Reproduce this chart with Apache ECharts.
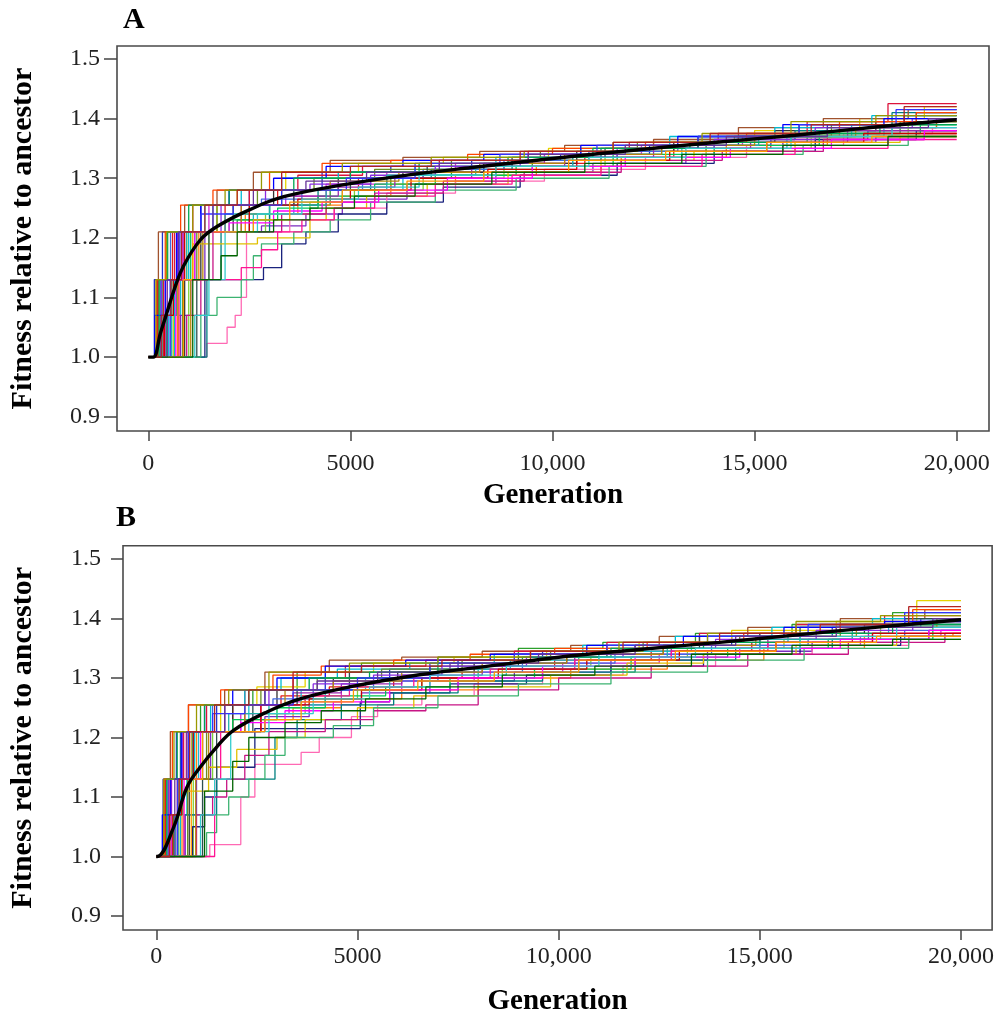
<!DOCTYPE html>
<html><head><meta charset="utf-8">
<script src="https://cdn.jsdelivr.net/npm/echarts@6/dist/echarts.min.js"></script>
<style>html,body{margin:0;padding:0;background:#fff}#c{width:997px;height:1018px}</style>
</head><body><div id="c"></div>
<script>
// ---------- Tick labels / axis data ----------
const yTicks = [0.9, 1.0, 1.1, 1.2, 1.3, 1.4, 1.5];
const xTicks = [0, 5000, 10000, 15000, 20000];
const yTitle = 'Fitness relative to ancestor';
const xTitle = 'Generation';
const panelLabels = ['A', 'B'];

// ---------- Panel A: individual runs [generation, fitness] ----------
const a01 = [[0,1],[150,1.13],[350,1.21],[1300,1.255],[2500,1.28],[4300,1.31],[6000,1.32],[8000,1.33],[10200,1.34],[12400,1.355],[14600,1.37],[16800,1.39],[19000,1.41],[20000,1.41]];
const a02 = [[0,1],[230,1.13],[600,1.21],[1900,1.255],[3200,1.28],[5200,1.3],[6800,1.31],[8600,1.325],[10800,1.335],[13000,1.35],[15400,1.365],[17800,1.38],[20000,1.38]];
const a03 = [[0,1],[360,1.13],[700,1.21],[2200,1.23],[3000,1.255],[4500,1.28],[6000,1.3],[7500,1.315],[9500,1.33],[11600,1.345],[13800,1.36],[16300,1.375],[18600,1.395],[20000,1.395]];
const a04 = [[0,1],[430,1.13],[850,1.21],[1500,1.255],[3400,1.27],[4400,1.29],[5900,1.31],[7600,1.325],[9800,1.34],[12200,1.355],[14700,1.37],[17100,1.385],[19500,1.4],[20000,1.4]];
const a05 = [[0,1],[500,1.07],[800,1.13],[1150,1.21],[2600,1.24],[3600,1.26],[4800,1.28],[6300,1.3],[8300,1.32],[10500,1.335],[13200,1.35],[15800,1.37],[18200,1.385],[20000,1.385]];
const a06 = [[0,1],[620,1.13],[950,1.21],[1700,1.255],[2200,1.28],[3400,1.31],[5200,1.325],[7300,1.335],[9900,1.35],[12500,1.36],[15000,1.38],[17600,1.4],[19200,1.42],[20000,1.42]];
const a07 = [[0,1],[720,1.13],[1250,1.21],[2400,1.24],[3700,1.255],[4800,1.27],[6000,1.29],[7600,1.305],[9600,1.32],[11700,1.335],[14300,1.355],[16800,1.37],[19000,1.375],[20000,1.375]];
const a08 = [[0,1],[800,1.07],[1050,1.13],[1400,1.21],[2800,1.22],[3900,1.24],[4800,1.265],[6400,1.29],[8600,1.31],[11000,1.325],[13300,1.345],[15700,1.36],[18000,1.37],[20000,1.37]];
const a09 = [[0,1],[900,1.13],[1300,1.21],[2100,1.255],[3100,1.28],[4700,1.3],[6300,1.31],[8300,1.325],[10600,1.345],[13000,1.36],[15500,1.38],[18000,1.395],[20000,1.395]];
const a10 = [[0,1],[1000,1.13],[1500,1.21],[2900,1.24],[4000,1.26],[5100,1.28],[6800,1.3],[8800,1.32],[11300,1.335],[13800,1.35],[16400,1.37],[18800,1.39],[20000,1.39]];
const a11 = [[0,1],[1450,1.023],[1950,1.05],[2150,1.07],[2300,1.1],[2430,1.21],[3500,1.23],[4600,1.25],[5900,1.275],[7600,1.295],[9800,1.315],[12300,1.335],[14800,1.355],[17200,1.375],[19400,1.385],[20000,1.385]];
const a12 = [[0,1],[1400,1.13],[2850,1.15],[3300,1.19],[3900,1.21],[4700,1.24],[5900,1.26],[7300,1.285],[9200,1.305],[11600,1.325],[14000,1.345],[16500,1.365],[19000,1.38],[20000,1.38]];
const a13 = [[0,1],[1450,1.13],[1800,1.21],[3000,1.255],[4200,1.28],[5500,1.3],[7000,1.315],[9000,1.33],[11200,1.35],[13600,1.365],[16000,1.38],[18400,1.41],[20000,1.41]];
const a14 = [[0,1],[250,1.21],[900,1.255],[1700,1.28],[2600,1.31],[4500,1.33],[6300,1.335],[8200,1.345],[10300,1.355],[12500,1.365],[14600,1.385],[16700,1.4],[18800,1.415],[20000,1.415]];
const a15 = [[0,1],[300,1.13],[550,1.21],[1600,1.255],[2800,1.265],[3800,1.28],[5300,1.3],[6800,1.315],[8800,1.33],[10900,1.345],[13100,1.355],[15400,1.37],[17800,1.38],[20000,1.38]];
const a16 = [[0,1],[380,1.13],[650,1.21],[1100,1.255],[2500,1.28],[3700,1.305],[5300,1.32],[7200,1.33],[9400,1.345],[11900,1.36],[14100,1.375],[16300,1.395],[18300,1.425],[20000,1.425]];
const a17 = [[0,1],[450,1.07],[700,1.13],[1050,1.21],[2000,1.23],[3200,1.25],[4200,1.27],[5600,1.29],[7100,1.305],[9100,1.32],[11500,1.34],[14000,1.355],[16600,1.375],[19100,1.39],[20000,1.39]];
const a18 = [[0,1],[560,1.13],[880,1.21],[2300,1.255],[3600,1.27],[4700,1.285],[6100,1.3],[8000,1.32],[10300,1.335],[12500,1.35],[14900,1.36],[17300,1.38],[20000,1.38]];
const a19 = [[0,1],[650,1.13],[1000,1.21],[1400,1.255],[2300,1.28],[3300,1.3],[4700,1.31],[6600,1.32],[8600,1.335],[10700,1.35],[12900,1.37],[15500,1.385],[17900,1.405],[20000,1.405]];
const a20 = [[0,1],[750,1.13],[1100,1.19],[2700,1.2],[4000,1.23],[4400,1.25],[5400,1.27],[6900,1.29],[8900,1.31],[11200,1.33],[13500,1.345],[16000,1.36],[18600,1.37],[20000,1.37]];
const a21 = [[0,1],[850,1.13],[1200,1.21],[1700,1.255],[2700,1.28],[4100,1.3],[5600,1.315],[7500,1.33],[9700,1.345],[12100,1.36],[14500,1.37],[16900,1.39],[19300,1.4],[20000,1.4]];
const a22 = [[0,1],[950,1.07],[1300,1.13],[1600,1.21],[3300,1.24],[4400,1.26],[5600,1.275],[7300,1.295],[9300,1.31],[11700,1.33],[14200,1.345],[16700,1.365],[19200,1.375],[20000,1.375]];
const a23 = [[0,1],[1200,1.13],[1500,1.21],[2500,1.255],[3600,1.28],[5000,1.31],[6900,1.32],[9000,1.335],[11300,1.35],[13600,1.37],[16100,1.39],[18700,1.405],[20000,1.405]];
const a24 = [[0,1],[200,1.13],[420,1.21],[800,1.255],[1600,1.28],[3000,1.31],[4300,1.325],[6000,1.33],[7900,1.34],[10000,1.35],[12300,1.36],[14800,1.375],[17100,1.395],[19000,1.41],[20000,1.41]];
const a25 = [[0,1],[1300,1.07],[1700,1.1],[2300,1.13],[2600,1.17],[2800,1.19],[3600,1.21],[4500,1.23],[5500,1.26],[7100,1.28],[9100,1.3],[11400,1.32],[13800,1.34],[16200,1.355],[18800,1.37],[20000,1.37]];
const a26 = [[0,1],[330,1.13],[720,1.21],[1800,1.255],[2900,1.28],[4000,1.29],[5500,1.305],[7100,1.32],[9200,1.335],[11600,1.35],[14000,1.365],[16500,1.385],[18900,1.4],[20000,1.4]];
const a27 = [[0,1],[580,1.13],[950,1.21],[1900,1.24],[3000,1.255],[4400,1.28],[5900,1.305],[8100,1.32],[10500,1.34],[12700,1.355],[15100,1.37],[17400,1.39],[20000,1.39]];
const a28 = [[0,1],[1050,1.13],[1350,1.21],[2300,1.255],[3300,1.28],[4500,1.295],[6200,1.31],[8200,1.325],[10300,1.34],[12700,1.355],[15000,1.37],[17500,1.385],[19500,1.395],[20000,1.395]];
const a29 = [[0,1],[160,1.07],[420,1.13],[700,1.21],[1300,1.255],[2000,1.28],[3100,1.3],[4400,1.32],[6300,1.33],[8300,1.34],[10700,1.355],[13100,1.37],[15700,1.39],[18200,1.4],[20000,1.4]];
const a30 = [[0,1],[760,1.13],[2300,1.15],[2800,1.18],[3200,1.21],[3800,1.23],[4600,1.25],[5600,1.27],[7100,1.29],[9000,1.305],[11200,1.32],[13700,1.34],[16000,1.35],[18300,1.365],[20000,1.365]];
const a31 = [[0,1],[270,1.13],[480,1.21],[1000,1.255],[2000,1.28],[3600,1.3],[5000,1.31],[6700,1.325],[8900,1.335],[11000,1.35],[13400,1.36],[15900,1.375],[18100,1.39],[20000,1.39]];
const a32 = [[0,1],[400,1.07],[620,1.13],[900,1.21],[2500,1.255],[3700,1.265],[5000,1.28],[6500,1.3],[8400,1.315],[10600,1.33],[12900,1.345],[15300,1.36],[17700,1.375],[20000,1.375]];
const a33 = [[0,1],[540,1.13],[780,1.21],[1300,1.24],[2100,1.255],[3300,1.28],[4900,1.3],[6600,1.325],[8700,1.34],[11100,1.355],[13600,1.37],[16100,1.39],[18500,1.415],[20000,1.415]];
const a34 = [[0,1],[680,1.13],[1150,1.21],[2000,1.225],[3100,1.245],[4300,1.26],[5700,1.28],[7400,1.3],[9500,1.32],[11800,1.335],[14400,1.35],[16900,1.365],[19200,1.38],[20000,1.38]];
const a35 = [[0,1],[1150,1.07],[1500,1.13],[1900,1.21],[2700,1.24],[3800,1.265],[5200,1.285],[6700,1.305],[8600,1.32],[10900,1.335],[13300,1.35],[15900,1.37],[18400,1.385],[20000,1.385]];
const a36 = [[0,1],[190,1.13],[450,1.21],[1100,1.255],[1900,1.28],[2800,1.31],[4800,1.325],[7000,1.335],[9300,1.345],[11500,1.36],[13700,1.375],[15900,1.395],[18000,1.405],[20000,1.405]];
const a37 = [[0,1],[870,1.13],[1100,1.21],[2600,1.23],[3500,1.26],[4800,1.28],[6400,1.295],[8300,1.31],[10400,1.33],[12800,1.345],[15300,1.36],[17900,1.37],[20000,1.37]];
const a38 = [[0,1],[470,1.13],[750,1.21],[1600,1.255],[2600,1.28],[3900,1.295],[5400,1.31],[7200,1.325],[9400,1.34],[11800,1.355],[14300,1.37],[16800,1.385],[19300,1.4],[20000,1.4]];
const a39 = [[0,1],[1100,1.13],[1800,1.17],[2200,1.21],[3100,1.23],[4000,1.25],[5100,1.27],[6600,1.29],[8500,1.31],[10800,1.325],[13200,1.34],[15700,1.355],[18300,1.37],[20000,1.37]];
const a40 = [[0,1],[320,1.07],[560,1.13],[820,1.21],[1400,1.255],[2200,1.28],[3300,1.31],[5000,1.32],[7000,1.33],[9200,1.345],[11500,1.36],[13900,1.375],[16400,1.39],[18700,1.42],[20000,1.42]];
const meanA = [[0,1],[125,1.0],[300,1.04],[455,1.073],[650,1.115],[866,1.152],[1280,1.196],[1700,1.219],[2500,1.247],[3350,1.269],[5000,1.291],[6500,1.306],[8000,1.318],[10000,1.333],[12000,1.347],[14000,1.36],[16000,1.372],[18000,1.386],[20000,1.398]];

// ---------- Panel B: individual runs ----------
const b01 = [[0,1],[170,1.13],[500,1.21],[1500,1.255],[2700,1.28],[4200,1.3],[5800,1.315],[7500,1.33],[9600,1.345],[11900,1.355],[14300,1.37],[16800,1.385],[19000,1.4],[20000,1.4]];
const b02 = [[0,1],[230,1.13],[750,1.21],[1900,1.255],[3100,1.27],[4300,1.285],[5900,1.3],[7600,1.315],[9900,1.33],[12300,1.345],[14800,1.36],[17300,1.375],[20000,1.375]];
const b03 = [[0,1],[300,1.13],[600,1.21],[1100,1.255],[2400,1.28],[3500,1.31],[5100,1.325],[7000,1.335],[9000,1.35],[11100,1.36],[13400,1.375],[15800,1.39],[18300,1.41],[20000,1.41]];
const b04 = [[0,1],[380,1.13],[750,1.21],[2100,1.24],[3300,1.26],[4600,1.28],[6100,1.295],[7900,1.31],[10100,1.325],[12500,1.34],[15000,1.355],[17500,1.37],[19500,1.38],[20000,1.38]];
const b05 = [[0,1],[480,1.07],[760,1.13],[1050,1.21],[2300,1.255],[3600,1.28],[5200,1.3],[6800,1.315],[8800,1.33],[11000,1.345],[13300,1.36],[15700,1.375],[18200,1.39],[20000,1.39]];
const b06 = [[0,1],[560,1.13],[880,1.21],[1600,1.255],[2500,1.285],[3700,1.31],[5400,1.325],[7400,1.335],[9700,1.345],[12000,1.36],[14300,1.38],[16900,1.395],[18900,1.43],[20000,1.43]];
const b07 = [[0,1],[640,1.13],[1000,1.21],[2200,1.23],[3400,1.25],[4600,1.265],[6100,1.28],[8000,1.3],[10300,1.315],[12700,1.33],[15100,1.35],[17600,1.37],[19800,1.375],[20000,1.375]];
const b08 = [[0,1],[720,1.07],[1000,1.13],[1350,1.21],[2700,1.235],[3800,1.255],[5100,1.275],[6800,1.295],[8900,1.31],[11300,1.33],[13700,1.345],[16300,1.36],[18700,1.37],[20000,1.37]];
const b09 = [[0,1],[820,1.13],[1150,1.21],[1900,1.255],[3000,1.28],[4400,1.3],[6000,1.31],[7900,1.325],[10200,1.34],[12600,1.355],[15000,1.375],[17600,1.39],[20000,1.39]];
const b10 = [[0,1],[920,1.13],[1400,1.21],[2600,1.24],[3700,1.265],[5000,1.285],[6600,1.3],[8600,1.32],[10800,1.335],[13200,1.35],[15600,1.365],[18000,1.385],[20000,1.385]];
const b11 = [[0,1],[1330,1.02],[2100,1.1],[2450,1.155],[3600,1.175],[4050,1.2],[4850,1.235],[5500,1.255],[6600,1.27],[7900,1.29],[9600,1.305],[11600,1.32],[13900,1.34],[16300,1.355],[18700,1.37],[20000,1.37]];
const b12 = [[0,1],[900,1.05],[1200,1.1],[1500,1.15],[2450,1.215],[5070,1.26],[5800,1.275],[7300,1.29],[9200,1.305],[11300,1.32],[13600,1.34],[16000,1.355],[18500,1.37],[20000,1.37]];
const b13 = [[0,1],[700,1.07],[1500,1.13],[2950,1.2],[3500,1.23],[4600,1.255],[5900,1.275],[7500,1.295],[9600,1.31],[11900,1.33],[14400,1.35],[16800,1.365],[19200,1.38],[20000,1.38]];
const b14 = [[0,1],[180,1.13],[350,1.21],[800,1.255],[1700,1.28],[2700,1.31],[4300,1.33],[6100,1.335],[8100,1.345],[10300,1.355],[12500,1.37],[14700,1.385],[17000,1.4],[19100,1.415],[20000,1.415]];
const b15 = [[0,1],[270,1.13],[620,1.21],[1400,1.255],[2900,1.265],[3900,1.28],[5400,1.295],[7000,1.31],[9100,1.325],[11400,1.34],[13800,1.355],[16200,1.365],[18600,1.38],[20000,1.38]];
const b16 = [[0,1],[340,1.13],[680,1.21],[1250,1.255],[2200,1.28],[3400,1.3],[4700,1.32],[6700,1.33],[8900,1.345],[11200,1.36],[13500,1.375],[15900,1.39],[18100,1.405],[20000,1.405]];
const b17 = [[0,1],[430,1.07],[640,1.13],[950,1.21],[1900,1.23],[3000,1.25],[4200,1.27],[5700,1.285],[7300,1.3],[9400,1.315],[11800,1.335],[14200,1.35],[16700,1.365],[19300,1.385],[20000,1.385]];
const b18 = [[0,1],[520,1.13],[900,1.21],[2200,1.255],[3400,1.275],[4600,1.29],[6100,1.305],[8100,1.32],[10400,1.335],[12800,1.35],[15200,1.365],[17700,1.385],[20000,1.385]];
const b19 = [[0,1],[600,1.13],[950,1.21],[1350,1.255],[2200,1.28],[3100,1.3],[4500,1.315],[6300,1.325],[8400,1.34],[10600,1.355],[12900,1.37],[15300,1.385],[17800,1.4],[20000,1.4]];
const b20 = [[0,1],[680,1.11],[1300,1.15],[2000,1.18],[3000,1.2],[3700,1.23],[5000,1.25],[6400,1.27],[8000,1.285],[9800,1.305],[11700,1.325],[13600,1.34],[15900,1.355],[18400,1.37],[20000,1.37]];
const b21 = [[0,1],[780,1.13],[1250,1.21],[1700,1.255],[2600,1.28],[4000,1.3],[5600,1.315],[7600,1.33],[9800,1.345],[12100,1.36],[14500,1.37],[17000,1.39],[19400,1.4],[20000,1.4]];
const b22 = [[0,1],[1000,1.07],[1400,1.1],[1750,1.13],[2200,1.17],[2800,1.21],[4200,1.23],[5400,1.245],[6700,1.255],[8000,1.28],[10000,1.3],[12300,1.32],[14700,1.34],[17200,1.36],[19600,1.375],[20000,1.375]];
const b23 = [[0,1],[1150,1.13],[1500,1.21],[2400,1.255],[3500,1.28],[4800,1.31],[6800,1.32],[9000,1.335],[11200,1.35],[13500,1.37],[16000,1.385],[18600,1.4],[20000,1.4]];
const b24 = [[0,1],[200,1.13],[400,1.21],[800,1.255],[1600,1.28],[2900,1.305],[4100,1.32],[5900,1.33],[7800,1.34],[9900,1.35],[12200,1.36],[14600,1.375],[17000,1.39],[18800,1.415],[20000,1.415]];
const b25 = [[0,1],[1250,1.04],[1500,1.07],[1800,1.1],[2300,1.13],[2700,1.17],[3200,1.2],[4400,1.22],[5400,1.25],[7000,1.27],[9000,1.29],[11300,1.31],[13700,1.33],[16100,1.35],[18700,1.365],[20000,1.365]];
const b26 = [[0,1],[310,1.13],[650,1.21],[1700,1.255],[2800,1.28],[3900,1.29],[5400,1.305],[7100,1.32],[9200,1.335],[11600,1.35],[13900,1.365],[16400,1.38],[18800,1.395],[20000,1.395]];
const b27 = [[0,1],[540,1.13],[900,1.21],[1800,1.24],[2800,1.255],[4200,1.28],[5800,1.3],[8000,1.315],[10500,1.335],[12700,1.35],[15000,1.365],[17300,1.385],[20000,1.385]];
const b28 = [[0,1],[980,1.13],[1300,1.21],[2200,1.255],[3200,1.28],[4400,1.295],[6100,1.31],[8100,1.325],[10200,1.34],[12600,1.355],[14900,1.37],[17400,1.385],[19400,1.395],[20000,1.395]];
const b29 = [[0,1],[150,1.07],[360,1.13],[620,1.21],[1200,1.255],[1900,1.28],[3000,1.3],[4200,1.32],[6200,1.33],[8300,1.34],[10700,1.355],[13100,1.37],[15600,1.385],[18100,1.395],[20000,1.395]];
const b30 = [[0,1],[1450,1.13],[1600,1.21],[2600,1.255],[3700,1.27],[4800,1.285],[6400,1.3],[8300,1.315],[10400,1.33],[12800,1.345],[15200,1.36],[17800,1.375],[20000,1.375]];
const b31 = [[0,1],[260,1.13],[520,1.21],[1200,1.255],[2300,1.28],[3800,1.3],[5300,1.31],[7000,1.325],[9100,1.335],[11300,1.35],[13600,1.36],[16000,1.375],[18300,1.39],[20000,1.39]];
const b32 = [[0,1],[410,1.07],[630,1.13],[920,1.21],[2600,1.255],[3800,1.265],[5100,1.28],[6600,1.3],[8500,1.315],[10700,1.33],[13000,1.345],[15400,1.36],[17800,1.375],[20000,1.375]];
const b33 = [[0,1],[530,1.13],[800,1.21],[1400,1.24],[2200,1.255],[3400,1.28],[5000,1.3],[6800,1.325],[8900,1.34],[11200,1.355],[13700,1.37],[16200,1.39],[18600,1.41],[20000,1.41]];
const b34 = [[0,1],[690,1.13],[1100,1.21],[2100,1.225],[3200,1.245],[4400,1.26],[5800,1.28],[7500,1.3],[9600,1.32],[11900,1.335],[14500,1.35],[17000,1.365],[19200,1.38],[20000,1.38]];
const b35 = [[0,1],[1100,1.07],[1450,1.13],[1850,1.21],[2800,1.24],[3900,1.265],[5300,1.285],[6800,1.305],[8700,1.32],[11000,1.335],[13400,1.35],[16000,1.37],[18400,1.385],[20000,1.385]];
const b36 = [[0,1],[190,1.13],[440,1.21],[1000,1.255],[1800,1.28],[2800,1.31],[4800,1.325],[7000,1.335],[9300,1.345],[11500,1.36],[13700,1.375],[15900,1.395],[18000,1.405],[20000,1.405]];
const b37 = [[0,1],[870,1.13],[1150,1.21],[2700,1.23],[3600,1.26],[4900,1.28],[6500,1.295],[8400,1.31],[10500,1.33],[12900,1.345],[15400,1.36],[17900,1.37],[20000,1.37]];
const b38 = [[0,1],[460,1.13],[760,1.21],[1700,1.255],[2700,1.28],[4000,1.295],[5500,1.31],[7300,1.325],[9500,1.34],[11900,1.355],[14400,1.37],[16900,1.385],[19300,1.4],[20000,1.4]];
const b39 = [[0,1],[1200,1.11],[1900,1.16],[2300,1.2],[3200,1.225],[4100,1.245],[5200,1.265],[6700,1.285],[8600,1.305],[10900,1.32],[13300,1.34],[15800,1.355],[18300,1.365],[20000,1.365]];
const b40 = [[0,1],[330,1.07],[570,1.13],[830,1.21],[1450,1.255],[2300,1.28],[3400,1.31],[5100,1.32],[7100,1.33],[9300,1.345],[11600,1.36],[14000,1.375],[16500,1.39],[18700,1.42],[20000,1.42]];
const meanB = [[0,1],[20,1.0],[430,1.049],[760,1.116],[1090,1.15],[1500,1.184],[1920,1.212],[2750,1.243],[3575,1.265],[4800,1.285],[6500,1.305],[8500,1.322],[10000,1.335],[12000,1.348],[14000,1.36],[16000,1.373],[18000,1.386],[20000,1.398]];

const runsA = [a01,a02,a03,a04,a05,a06,a07,a08,a09,a10,a11,a12,a13,a14,a15,a16,a17,a18,a19,a20,
               a21,a22,a23,a24,a25,a26,a27,a28,a29,a30,a31,a32,a33,a34,a35,a36,a37,a38,a39,a40];
const runsB = [b01,b02,b03,b04,b05,b06,b07,b08,b09,b10,b11,b12,b13,b14,b15,b16,b17,b18,b19,b20,
               b21,b22,b23,b24,b25,b26,b27,b28,b29,b30,b31,b32,b33,b34,b35,b36,b37,b38,b39,b40];

const palette = ['#2233cc','#e41a1c','#2ca02c','#d62ad0','#17becf','#e6d200','#ff7f0e','#7b2cbf','#333333','#7fd13b',
                 '#ff69b4','#1a237e','#008080','#a0522d','#4169e1','#dc143c','#00c853','#9c27b0','#00bcd4','#e0c000',
                 '#6b8e23','#c71585','#2f4f4f','#ff4500','#3cb371','#8a2be2','#20b2aa','#b8860b','#0000ff','#ff1493',
                 '#00a651','#cc0000','#3333ff','#ff00ff','#33cccc','#999900','#ff9900','#663399','#006400','#b22222'];

const SERIF = '"Liberation Serif","Times New Roman",serif';
const fmtX = v => String(v).length > 4 ? String(v).replace(/\B(?=(\d{3})+(?!\d))/g, ',') : String(v);

// frame geometry and axis extents per panel (frame extends beyond the tick range)
const panels = [
  {box:{left:117, top:46, width:872, height:385}, xRange:[-774, 20799], yRange:[0.876, 1.5218],
   xMargin:21, yMargin:17, xNameGap:50, yNameGap:79, yTickLen:13},
  {box:{left:122.7, top:545.7, width:870, height:384.3}, xRange:[-827, 20773], yRange:[0.8765, 1.5224],
   xMargin:15, yMargin:22, xNameGap:57, yNameGap:85, yTickLen:12}
];

const grid = [], xAxis = [], yAxis = [], series = [];
panels.forEach((p, i) => {
  grid.push(Object.assign({show:true, borderColor:'#4a4a4a', borderWidth:1.6, backgroundColor:'transparent'}, p.box));
  xAxis.push({gridIndex:i, type:'value', min:p.xRange[0], max:p.xRange[1], position:'bottom',
    splitLine:{show:false}, axisLine:{show:false, onZero:false},
    axisTick:{show:true, inside:false, customValues:xTicks, length:10, lineStyle:{color:'#444', width:1.5}},
    axisLabel:{customValues:xTicks, formatter:fmtX, fontFamily:SERIF, fontSize:24, color:'#222', margin:p.xMargin},
    name:xTitle, nameLocation:'middle', nameGap:p.xNameGap,
    nameTextStyle:{fontFamily:SERIF, fontWeight:'bold', fontSize:29, color:'#000'}});
  yAxis.push({gridIndex:i, type:'value', min:p.yRange[0], max:p.yRange[1], position:'left',
    splitLine:{show:false}, axisLine:{show:false, onZero:false},
    axisTick:{show:true, inside:false, customValues:yTicks, length:p.yTickLen, lineStyle:{color:'#444', width:1.5}},
    axisLabel:{customValues:yTicks, formatter:v => Number(v).toFixed(1), fontFamily:SERIF, fontSize:24, color:'#222', margin:p.yMargin},
    name:yTitle, nameLocation:'middle', nameGap:p.yNameGap, nameRotate:90,
    nameTextStyle:{fontFamily:SERIF, fontWeight:'bold', fontSize:30, color:'#000'}});
  const runs = i === 0 ? runsA : runsB;
  runs.forEach((r, k) => {
    series.push({type:'line', xAxisIndex:i, yAxisIndex:i, data:r, step:'end',
      showSymbol:false, silent:true, lineStyle:{width:1.3, color:palette[k % palette.length]}, z:2});
  });
  series.push({type:'line', xAxisIndex:i, yAxisIndex:i, data:(i===0?meanA:meanB), smooth:0.4,
    showSymbol:false, silent:true, lineStyle:{width:3.4, color:'#000'}, z:5});
});

const chart = echarts.init(document.getElementById('c'), null, {renderer:'canvas'});
chart.setOption({
  animation:false,
  backgroundColor:'#fff',
  grid, xAxis, yAxis, series,
  graphic:[
    {type:'text', left:123, top:5, style:{text:panelLabels[0], font:'bold 30px ' + SERIF, fill:'#000'}},
    {type:'text', left:116, top:503, style:{text:panelLabels[1], font:'bold 30px ' + SERIF, fill:'#000'}}
  ]
});
</script></body></html>
